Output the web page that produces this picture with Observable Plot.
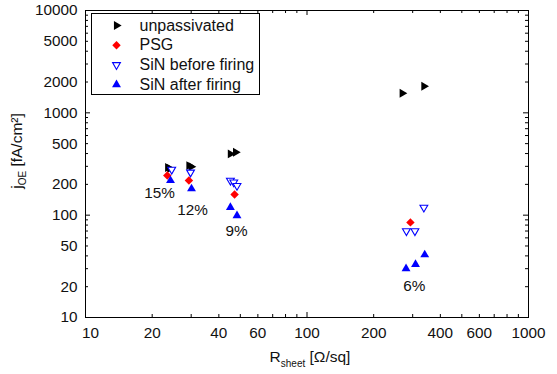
<!DOCTYPE html>
<html><head><meta charset="utf-8">
<script src="https://cdn.jsdelivr.net/npm/d3@7"></script>
<script src="https://cdn.jsdelivr.net/npm/@observablehq/plot@0.6"></script>
<style>body{margin:0;background:#fff}</style>
</head><body><div id="chart"></div>
<script>
const seriesNames = ["unpassivated", "PSG", "SiN before firing", "SiN after firing"];
// [R_sheet (Ω/sq), j0E (fA/cm²)]
const unpassivated = [[23.5,292],[24.0,286],[29.3,305],[30.0,298],[45.1,397],[47.6,412],[269,1555],[337,1820]];
const psg = [[23.4,244],[29.3,218],[47.1,159],[293,85]];
const sinBefore = [[24.5,279],[29.8,262],[45.1,218],[46.7,210],[48.3,194],[281,70],[307,70],[337,119]];
const sinAfter = [[24.2,218],[30.1,181],[45.1,119],[48.3,99],[280,30],[309,33],[340,41]];
const annotations = [["15%",21.6,166],["12%",30.4,111],["9%",48.1,70.6],["6%",305,20.5]];
const xTickLabels = [10,20,40,60,100,200,400,600,1000];
const yTickLabels = [10,20,50,100,200,500,1000,2000,5000,10000];

const W = 557, H = 374, mL = 85, mR = 29, mT = 10, mB = 57;
const fw = W - mL - mR, fh = H - mT - mB;
const font = "Liberation Sans, Arial, Helvetica, sans-serif";
const majorX = [10,100,1000];
const minorX = [1,2].flatMap(e => d3.range(2,10).map(m => m * 10 ** e));
const majorY = [10,100,1000,10000];
const minorY = [1,2,3].flatMap(e => d3.range(2,10).map(m => m * 10 ** e));

const styles = [
  {data: unpassivated, symbol: "triangle", rotate: 90, fill: "black", stroke: "none", r: 3.3},
  {data: psg, symbol: "diamond2", rotate: 0, fill: "#ff0000", stroke: "none", r: 3.8},
  {data: sinBefore, symbol: "triangle", rotate: 180, fill: "white", stroke: "#0000ff", r: 2.9},
  {data: sinAfter, symbol: "triangle", rotate: 0, fill: "#0000ff", stroke: "none", r: 3.3}
];

const marks = [];
// ticks (inside)
marks.push(Plot.tickX(majorX, {x: d => d, insetTop: fh - 5, stroke: "black"}));
marks.push(Plot.tickX(minorX, {x: d => d, insetTop: fh - 3, stroke: "black"}));
marks.push(Plot.tickX(majorX, {x: d => d, insetBottom: fh - 5, stroke: "black"}));
marks.push(Plot.tickX(minorX, {x: d => d, insetBottom: fh - 3, stroke: "black"}));
marks.push(Plot.tickY(majorY, {y: d => d, insetRight: fw - 5, stroke: "black"}));
marks.push(Plot.tickY(minorY, {y: d => d, insetRight: fw - 3, stroke: "black"}));
marks.push(Plot.tickY(majorY, {y: d => d, insetLeft: fw - 5, stroke: "black"}));
marks.push(Plot.tickY(minorY, {y: d => d, insetLeft: fw - 3, stroke: "black"}));
// tick labels
const tl = {fontSize: 15.3, fill: "#111", lineAnchor: "middle"};
marks.push(Plot.text(xTickLabels.slice(0,1), {x: d => d, frameAnchor: "bottom", dy: 16, dx: 5, text: d => String(d), ...tl}));
marks.push(Plot.text(xTickLabels.slice(1), {x: d => d, frameAnchor: "bottom", dy: 16, text: d => String(d), ...tl}));
marks.push(Plot.text(yTickLabels, {y: d => d, frameAnchor: "left", dx: -8, textAnchor: "end", text: d => String(d), ...tl}));
// data
for (const s of styles) {
  marks.push(Plot.dot(s.data, {x: d => d[0], y: d => d[1], symbol: s.symbol, rotate: s.rotate, r: s.r, fill: s.fill, stroke: s.stroke, strokeWidth: 1.1}));
}
// annotations
marks.push(Plot.text(annotations, {x: d => d[1], y: d => d[2], text: d => d[0], ...tl}));
// frame
marks.push(Plot.frame({stroke: "black", strokeWidth: 1}));
// legend
marks.push(Plot.frame({fill: "white", stroke: "black", insetLeft: 6, insetTop: 3, insetRight: fw - 174, insetBottom: fh - 84}));
seriesNames.forEach((name, i) => {
  const s = styles[i];
  marks.push(Plot.dot([name], {frameAnchor: "top-left", dx: 31, dy: 15 + i * 19.7, symbol: s.symbol, rotate: s.rotate, r: s.r, fill: s.fill, stroke: s.stroke, strokeWidth: 1.1}));
  marks.push(Plot.text([name], {frameAnchor: "top-left", dx: 54, dy: 15 + i * 19.7, textAnchor: "start", text: d => d, ...tl, fontSize: 16}));
});

const chart = Plot.plot({
  width: W, height: H,
  marginLeft: mL, marginRight: mR, marginTop: mT, marginBottom: mB,
  style: {fontFamily: font, fontSize: "15px", background: "white"},
  x: {type: "log", domain: [10, 1000], axis: null},
  y: {type: "log", domain: [10, 10000], axis: null},
  marks
});
document.getElementById("chart").appendChild(chart);

const svg = d3.select(chart);
// x label
const xl = svg.append("text").attr("x", 310).attr("y", 362).attr("text-anchor", "middle")
  .attr("font-family", font).attr("font-size", 15.5).attr("fill", "#111");
xl.append("tspan").text("R");
xl.append("tspan").attr("font-size", 10).attr("dy", 5).text("sheet");
xl.append("tspan").attr("dy", -5).text(" [Ω/sq]");
// y label
const yl = svg.append("text").attr("transform", "translate(22,151) rotate(-90)").attr("text-anchor", "middle")
  .attr("font-family", font).attr("font-size", 15.5).attr("fill", "#111");
yl.append("tspan").text("j");
yl.append("tspan").attr("font-size", 10).attr("dy", 4).text("OE");
yl.append("tspan").attr("dy", -4).text(" [fA/cm²]");
</script>
</body></html>
